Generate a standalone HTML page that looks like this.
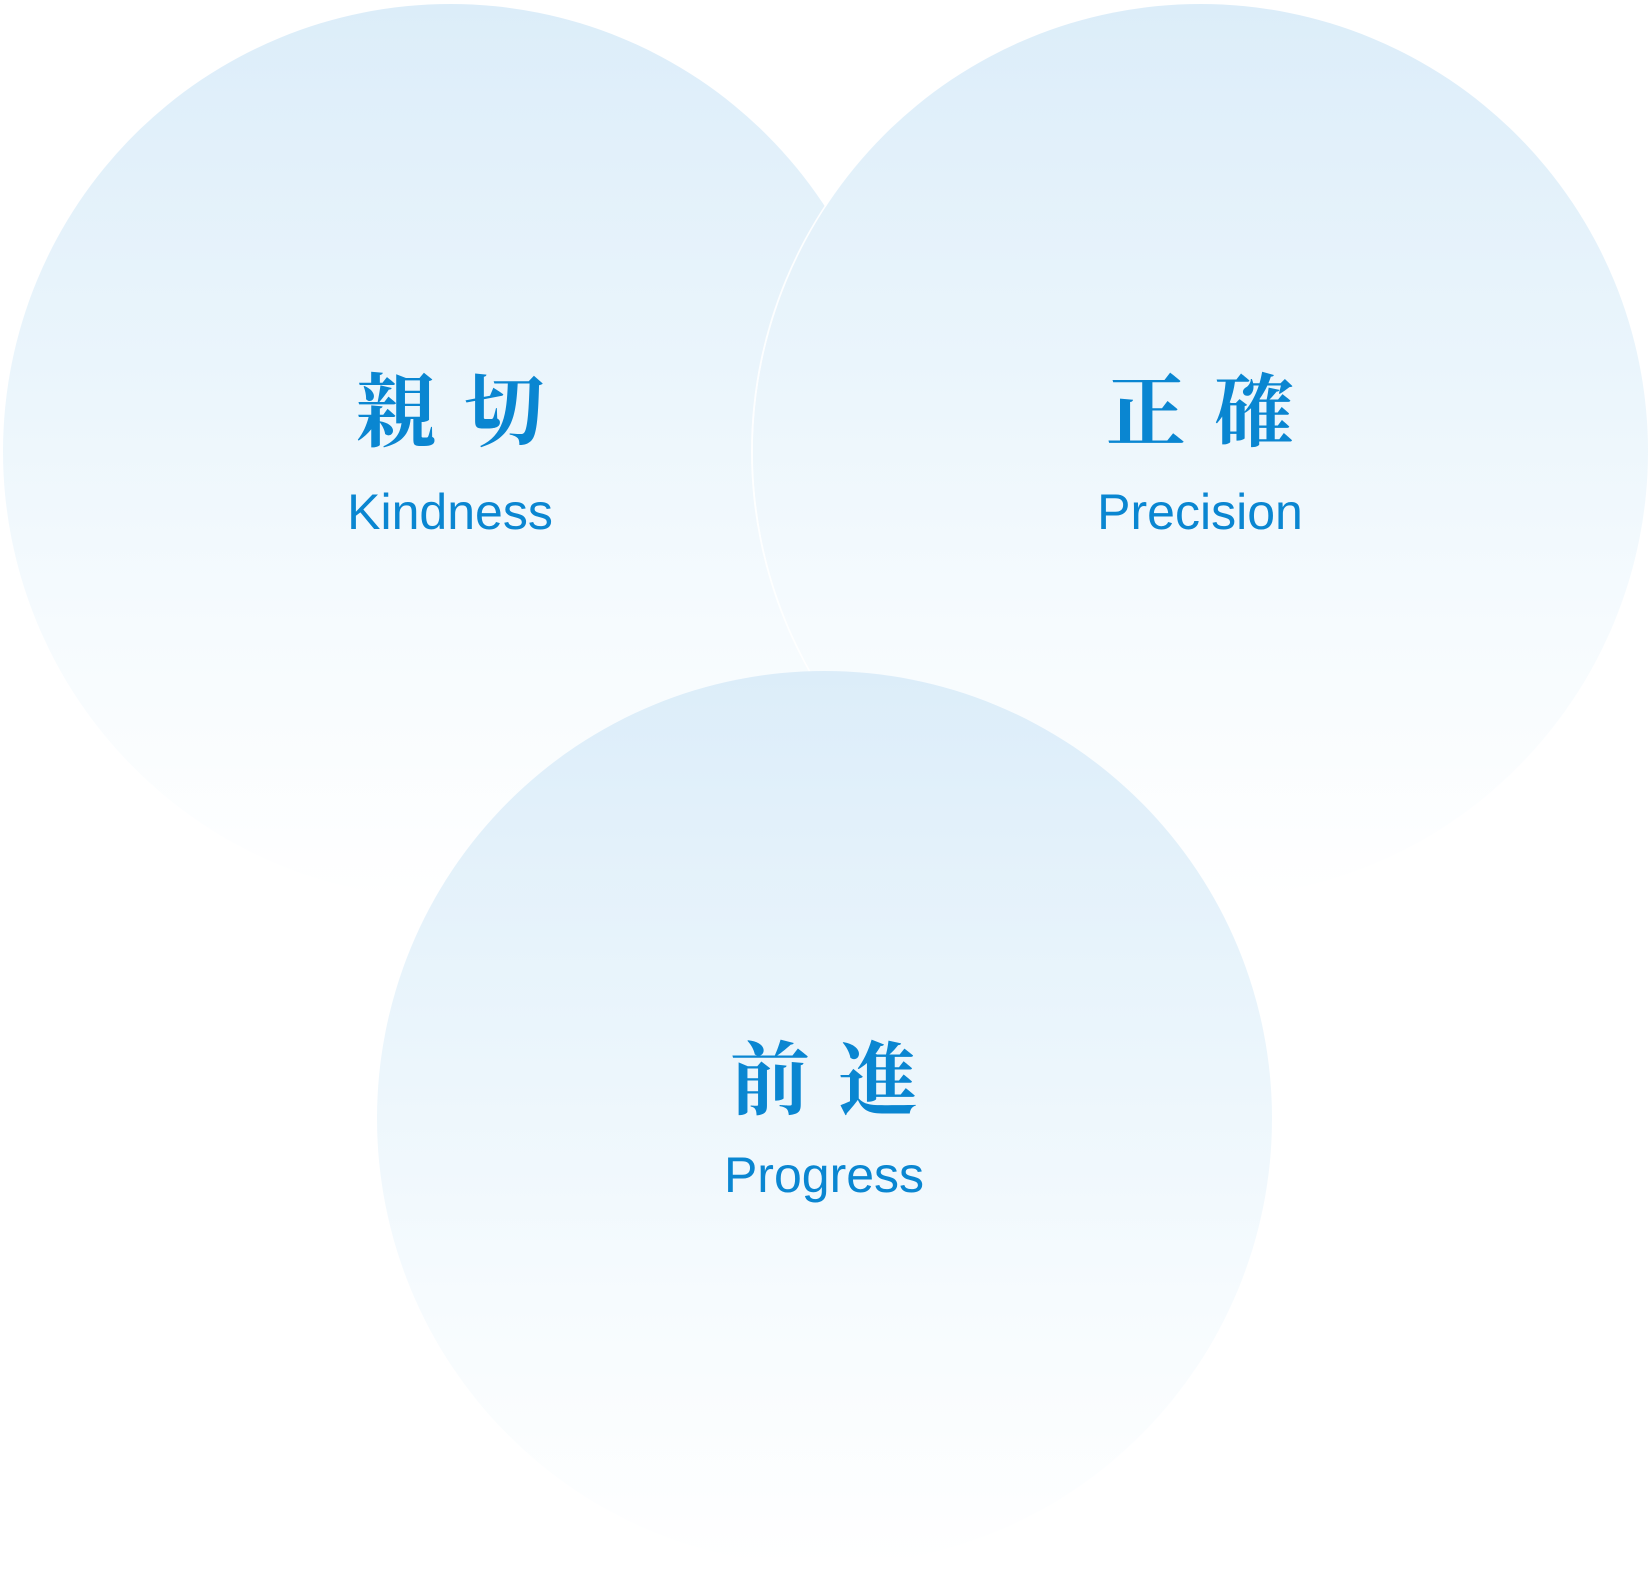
<!DOCTYPE html>
<html><head><meta charset="utf-8"><style>
html,body{margin:0;padding:0;background:#fff;}
body{width:1650px;height:1569px;position:relative;overflow:hidden;}
.c{position:absolute;width:895px;height:895px;border-radius:50%;
background:linear-gradient(180deg,#dcedf9 0%,#ecf6fc 45%,#f6fbfe 70%,#ffffff 100%);}
.k{position:absolute;width:400px;text-align:center;color:#0a86d1;
font-family:"Liberation Serif","Noto Serif CJK JP",serif;font-weight:bold;font-size:80px;line-height:80px;letter-spacing:28px;text-indent:28px;}
.e{position:absolute;width:400px;text-align:center;color:#0a86d1;
font-family:"Liberation Sans",sans-serif;font-size:50px;line-height:50px;}
</style></head><body>
<div class="c" style="left:3px;top:4px;"></div>
<div class="c" style="left:753px;top:4px;box-shadow:-2px 0 0 rgba(255,255,255,0.9);"></div>
<div class="c" style="left:377px;top:671px;"></div>
<div class="k" style="left:250px;top:374px;">親切</div>
<div class="e" style="left:250px;top:487px;">Kindness</div>
<div class="k" style="left:1000px;top:374px;">正確</div>
<div class="e" style="left:1000px;top:487px;">Precision</div>
<div class="k" style="left:624px;top:1042px;">前進</div>
<div class="e" style="left:624px;top:1150px;">Progress</div>
</body></html>
